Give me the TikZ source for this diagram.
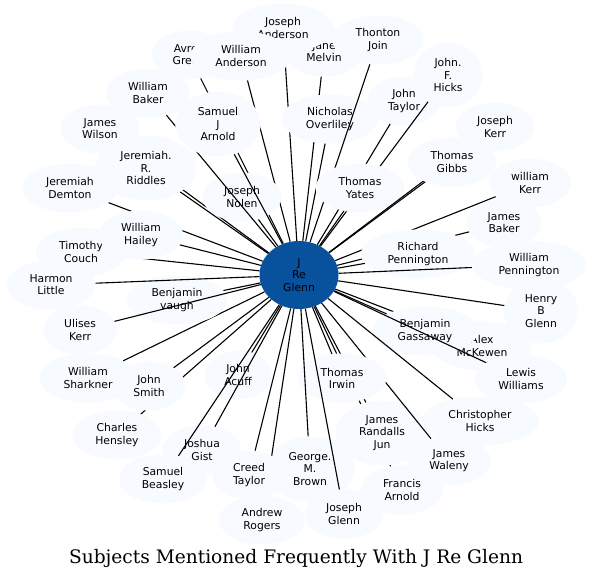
\documentclass[tikz,border=0pt]{standalone}
\usepackage{fontspec}
\usetikzlibrary{shapes.geometric}

\newfontfamily\namefont{DejaVu Sans}
\newfontfamily\titlefont{DejaVu Serif}

\definecolor{nodefill}{HTML}{F7FBFF}
\definecolor{hubfill}{HTML}{08519C}

\tikzset{
    person/.style={ellipse, fill=nodefill, align=center,
        font=\namefont\fontsize{10.8}{12.2}\selectfont,
        inner xsep=10pt, inner ysep=2pt, minimum height=49pt},
    duo/.style={person},
    trio/.style={person, minimum height=65pt},
    hub/.style={person, fill=hubfill, inner sep=0pt,
        minimum width=79pt, minimum height=68pt},
    link/.style={black, line width=1.1pt},
    caption/.style={font=\titlefont\fontsize{18.6}{22}\selectfont}
}

\begin{document}
\begin{tikzpicture}[x=1pt,y=-1pt]
    % marco (pixeles, y hacia abajo)
    \useasboundingbox (0,0) rectangle (594,582);

    % nodo central
    \node[hub] (glenn) at (299,275) {J\\Re\\Glenn};

    % cada persona se dibuja y enseguida su arista desde el centro
    \foreach \nm/\px/\py/\st/\lbl in {
        melvin/324/52/duo/Jane\\Melvin,
        janderson/283/28/duo/Joseph\\Anderson,
        avrey/189/55/duo/Avrey\\Green,
        wanderson/241/56/duo/William\\Anderson,
        overliley/330/119/duo/Nicholas\\Overliley,
        join/378/40/duo/Thonton\\Join,
        jtaylor/404/101/duo/John\\Taylor,
        jfhicks/448/75/trio/John.\\F.\\Hicks,
        yates/360/188/duo/Thomas\\Yates,
        jkerr/495/127/duo/Joseph\\Kerr,
        gibbs/452/162/duo/Thomas\\Gibbs,
        wkerr/530/183/duo/william\\Kerr,
        jbaker/504/223/duo/James\\Baker,
        rpennington/418/254/duo/Richard\\Pennington,
        wpennington/529/265/duo/William\\Pennington,
        hbglenn/541/311/trio/Henry\\B\\Glenn,
        mckewen/482/346/duo/Alex\\McKewen,
        gassaway/425/331/duo/Benjamin\\Gassaway,
        lwilliams/521/379/duo/Lewis\\Williams,
        farnold/402/490/duo/Francis\\Arnold,
        randalls/382/433/trio/James\\Randalls\\Jun,
        waleny/449/461/duo/James\\Waleny,
        chicks/480/421/duo/Christopher\\Hicks,
        irwin/342/378/duo/Thomas\\Irwin,
        gbrown/310/469/trio/George.\\M.\\Brown,
        jglenn/344/514/duo/Joseph\\Glenn,
        rogers/262/520/duo/Andrew\\Rogers,
        ctaylor/249/475/duo/Creed\\Taylor,
        acuff/238/375/duo/John\\Acuff,
        gist/202/450/duo/Joshua\\Gist,
        beasley/163/479/duo/Samuel\\Beasley,
        hensley/117/435/duo/Charles\\Hensley,
        smith/149/386/duo/John\\Smith,
        sharkner/88/378/duo/William\\Sharkner,
        vaugh/177/300/duo/Benjamin\\vaugh,
        ukerr/80/330/duo/Ulises\\Kerr,
        little/51/285/duo/Harmon\\Little,
        couch/81/252/duo/Timothy\\Couch,
        demton/70/188/duo/Jeremiah\\Demton,
        hailey/141/235/duo/William\\Hailey,
        wilson/100/129/duo/James\\Wilson,
        nolen/242/197/duo/Joseph\\Nolen,
        riddles/146/168/trio/Jeremiah.\\R.\\Riddles,
        wbaker/148/93/duo/William\\Baker,
        sarnold/218/124/trio/Samuel\\J\\Arnold}{
        \node[\st] (\nm) at (\px,\py) {\lbl};
        \draw[link] (glenn) -- (\nm);
    }

    % título
    \node[caption] (title) at (296,558) {Subjects Mentioned Frequently With J Re Glenn};
\end{tikzpicture}
\end{document}
